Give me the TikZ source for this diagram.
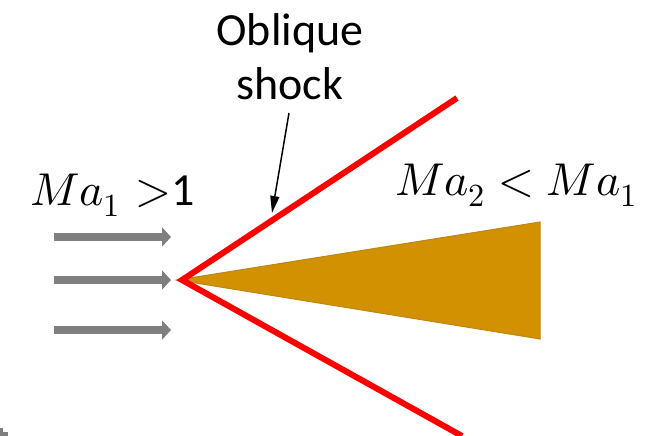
\documentclass[tikz,border=0pt]{standalone}
\usepackage{unicode-math}
\setmainfont{Carlito}
\setmathfont{Latin Modern Math}
\usetikzlibrary{arrows.meta}
\definecolor{wedgefill}{RGB}{209,145,0}
\definecolor{wedgeedge}{RGB}{190,135,20}
\definecolor{flowgrey}{RGB}{127,127,127}
\tikzset{
  shockline/.style={draw=red, line width=6pt},
  flowarrow/.style={draw=flowgrey, line width=8pt, -{Triangle[length=9pt,width=19pt]}},
  pointer/.style={draw=black, line width=1.5pt, -{Triangle[length=17pt,width=9pt]}},
  bigtext/.style={font=\fontsize{46}{54}\selectfont, inner sep=0pt},
}
\begin{document}
\begin{tikzpicture}[x=1pt,y=-1pt]
\useasboundingbox (0,0) rectangle (654,436);
% wedge
\coordinate (apex) at (182,280);
\coordinate (wtip) at (177,280);
\coordinate (wtop) at (540,222);
\coordinate (wbot) at (540,339);
\filldraw[fill=wedgefill, draw=wedgeedge, line width=1pt] (wtip) -- (wtop) -- (wbot) -- cycle;
% shocks
\coordinate (sup) at (457,98);
\coordinate (sdown) at (462,436);
\draw[shockline] (sup) -- (apex) -- (sdown);
% flow arrows
\coordinate (a1s) at (54,237); \coordinate (a1e) at (171,237);
\coordinate (a2s) at (54,280); \coordinate (a2e) at (171,280);
\coordinate (a3s) at (54,330); \coordinate (a3e) at (171,330);
\draw[flowarrow] (a1s) -- (a1e);
\draw[flowarrow] (a2s) -- (a2e);
\draw[flowarrow] (a3s) -- (a3e);
% labels
\node[bigtext, align=center] (oblique) at (290,57) {Oblique\\shock};
\coordinate (ptip) at (272,213);
\draw[pointer] (289,113) -- (ptip);
\node[bigtext, anchor=base west] (ma1) at (30,205) {$Ma_1$\,\,$>$1};
\node[bigtext, anchor=base west] (ma2) at (395,195) {$Ma_2 < Ma_1$};
% small grey mark bottom-left
\fill[flowgrey] (0,428) rectangle (3,436);
\fill[flowgrey] (3,432) rectangle (8,436);
\end{tikzpicture}
\end{document}
